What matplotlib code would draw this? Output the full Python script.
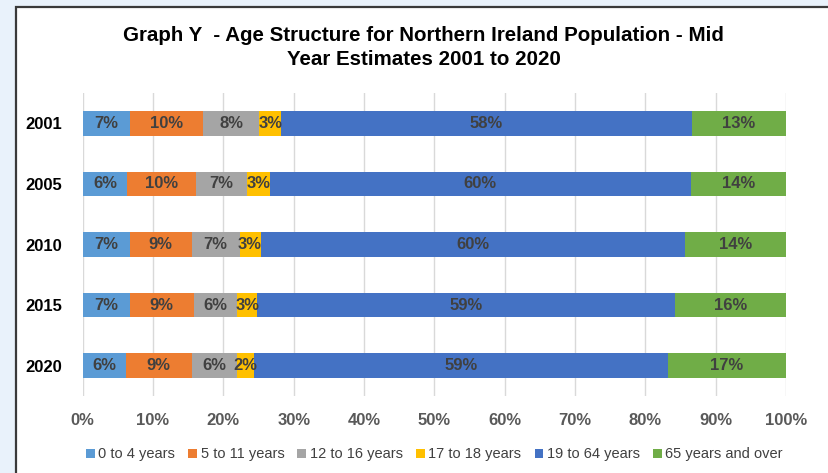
import numpy as np
import matplotlib
matplotlib.use("Agg")
import matplotlib.pyplot as plt
from matplotlib.patches import Rectangle

plt.rcParams['font.family'] = ['Liberation Sans', 'DejaVu Sans']

# data (percent of population)
years = ['2001', '2005', '2010', '2015', '2020']
groups = ['0 to 4 years', '5 to 11 years', '12 to 16 years',
          '17 to 18 years', '19 to 64 years', '65 years and over']
age_0_4 = [6.7, 6.3, 6.7, 6.7, 6.1]
age_5_11 = [10.4, 9.8, 8.8, 9.1, 9.4]
age_12_16 = [8.0, 7.3, 6.8, 6.2, 6.4]
age_17_18 = [3.1, 3.2, 3.0, 2.8, 2.4]
age_19_64 = [58.4, 59.9, 60.4, 59.4, 58.9]
age_65_up = [13.4, 13.5, 14.3, 15.8, 16.8]
colors = ['#5B9BD5', '#ED7D31', '#A5A5A5', '#FFC000', '#4472C4', '#70AD47']

series = [age_0_4, age_5_11, age_12_16, age_17_18, age_19_64, age_65_up]

fig = plt.figure(figsize=(8.29, 4.73), dpi=100)
fig.patch.set_facecolor('#E9F2FB')
# white chart area with dark border on top/left
fig.patches.append(Rectangle((0.0193, -0.05), 1.1, 1.035, transform=fig.transFigure,
                             facecolor='white', edgecolor='#3A3A3A', linewidth=1.6,
                             zorder=-5))

ax = fig.add_axes([0.0998, 0.163, 0.8483, 0.640])
ax.set_zorder(2)
ax.patch.set_alpha(0)

y = np.arange(len(years))
left = np.zeros(len(years))
for vals, lab, col in zip(series, groups, colors):
    vals = np.array(vals)
    bars = ax.barh(y, vals, left=left, height=0.41, color=col, label=lab, zorder=3)
    for yi, l, v in zip(y, left, vals):
        ax.text(l + v / 2, yi, '%d%%' % round(v), ha='center', va='center',
                fontsize=12, fontweight='bold', color='#404040', zorder=4)
    left += vals

ax.set_xlim(0, 100)
ax.set_ylim(len(years) - 0.5, -0.5)
ax.set_yticks(y)
ax.set_yticklabels(years, fontsize=12, fontweight='bold', color='black')
ax.set_xticks(np.arange(0, 101, 10))
ax.set_xticklabels(['%d%%' % v for v in range(0, 101, 10)], fontsize=12,
                   fontweight='bold', color='#595959')
ax.tick_params(axis='both', length=0)
ax.tick_params(axis='y', pad=15)
ax.tick_params(axis='x', pad=12)
ax.grid(axis='x', color='#D9D9D9', linewidth=1, zorder=0)
for s in ax.spines.values():
    s.set_visible(False)

fig.text(0.511, 0.900, 'Graph Y  - Age Structure for Northern Ireland Population - Mid\nYear Estimates 2001 to 2020',
         ha='center', va='center', fontsize=14.8, fontweight='bold', linespacing=1.3)

ax.legend(loc='center', bbox_to_anchor=(0.5, -0.193), ncol=6, frameon=False,
          fontsize=10.5, handlelength=0.6, handleheight=0.6, handletextpad=0.25,
          columnspacing=0.9, labelcolor='#404040')

fig.savefig('out.png', dpi=100, facecolor=fig.get_facecolor())
